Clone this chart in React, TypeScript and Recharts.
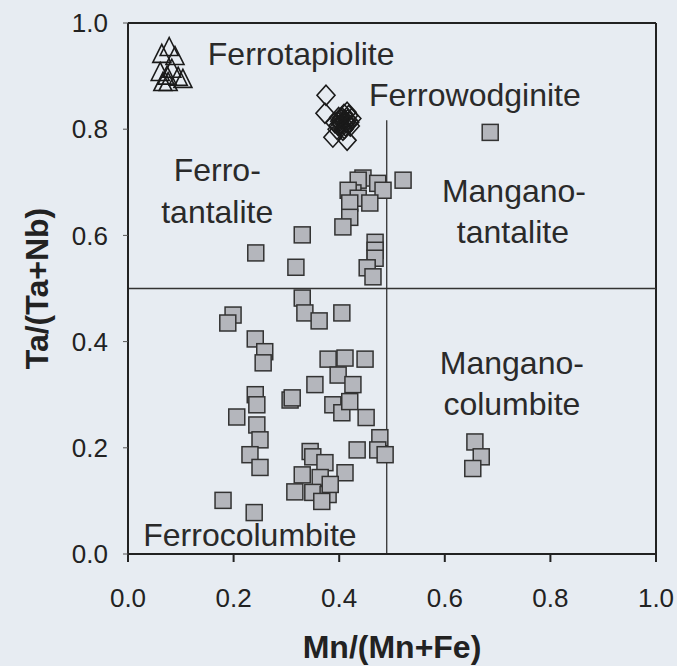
import { ScatterChart, Scatter, XAxis, YAxis, ReferenceLine, ReferenceDot } from 'recharts';

const xTicks = [0, 0.2, 0.4, 0.6, 0.8, 1.0];
const yTicks = [0, 0.2, 0.4, 0.6, 0.8, 1.0];

// Ferrotapiolite (open triangles)
const tapiolite: [number, number][] = [
  [0.078, 0.952], [0.064, 0.939], [0.089, 0.935], [0.083, 0.911], [0.061, 0.905],
  [0.074, 0.898], [0.095, 0.896], [0.104, 0.892], [0.076, 0.886], [0.066, 0.886],
];

// Ferrowodginite (open diamonds, dense cluster near 0.41/0.81)
const wodginite: [number, number][] = [
  [0.375, 0.864], [0.373, 0.83], [0.405, 0.822], [0.415, 0.832], [0.42, 0.813],
  [0.398, 0.807], [0.407, 0.798], [0.411, 0.817], [0.424, 0.82], [0.401, 0.815],
  [0.412, 0.806], [0.418, 0.826], [0.392, 0.812], [0.388, 0.785], [0.415, 0.779],
  [0.409, 0.828], [0.403, 0.81], [0.416, 0.818], [0.421, 0.806], [0.396, 0.8],
  [0.41, 0.801], [0.404, 0.819], [0.413, 0.812], [0.399, 0.822],
];

// Columbite-tantalite (grey squares)
const columbite: [number, number][] = [
  [0.445, 0.708], [0.436, 0.704], [0.473, 0.698], [0.483, 0.685], [0.426, 0.68],
  [0.417, 0.685], [0.436, 0.67], [0.458, 0.661], [0.42, 0.661], [0.42, 0.634],
  [0.407, 0.616], [0.468, 0.587], [0.468, 0.572], [0.468, 0.557], [0.453, 0.539],
  [0.464, 0.522], [0.521, 0.704], [0.686, 0.794], [0.33, 0.601], [0.242, 0.567],
  [0.318, 0.54],
  [0.33, 0.482], [0.335, 0.454], [0.362, 0.439], [0.405, 0.454], [0.199, 0.45],
  [0.189, 0.435], [0.241, 0.405], [0.259, 0.381], [0.256, 0.36], [0.379, 0.367],
  [0.411, 0.369], [0.449, 0.367], [0.398, 0.337], [0.426, 0.319], [0.354, 0.319],
  [0.307, 0.29], [0.311, 0.294], [0.388, 0.281], [0.405, 0.266], [0.42, 0.287],
  [0.451, 0.257], [0.477, 0.219], [0.473, 0.196], [0.487, 0.187], [0.434, 0.196],
  [0.345, 0.193], [0.35, 0.183], [0.373, 0.172], [0.411, 0.153], [0.33, 0.149],
  [0.364, 0.144], [0.316, 0.117], [0.35, 0.116], [0.379, 0.112], [0.367, 0.099],
  [0.383, 0.131], [0.241, 0.3], [0.244, 0.281], [0.206, 0.258], [0.244, 0.243],
  [0.25, 0.215], [0.231, 0.187], [0.25, 0.163], [0.18, 0.101], [0.239, 0.078],
  [0.657, 0.211], [0.669, 0.183], [0.653, 0.161],
];

const regionLabels = [
  { text: 'Ferrotapiolite', x: 0.328, y: 0.9415 },
  { text: 'Ferrowodginite', x: 0.657, y: 0.866 },
  { text: 'Ferro-', x: 0.169, y: 0.724 },
  { text: 'tantalite', x: 0.169, y: 0.644 },
  { text: 'Mangano-', x: 0.731, y: 0.684 },
  { text: 'tantalite', x: 0.729, y: 0.607 },
  { text: 'Mangano-', x: 0.727, y: 0.36 },
  { text: 'columbite', x: 0.727, y: 0.284 },
  { text: 'Ferrocolumbite', x: 0.231, y: 0.036 },
];

const toPoints = (rows: [number, number][]) => rows.map(([x, y]) => ({ x, y }));

const SquareMark = (props: any) => {
  const { cx, cy } = props;
  return <rect x={cx - 8} y={cy - 8} width={16} height={16} fill="#b4b6bc" stroke="#333" strokeWidth={1.5} />;
};

const TriangleMark = (props: any) => {
  const { cx, cy } = props;
  return (
    <polygon
      points={`${cx},${cy - 11} ${cx + 9},${cy + 7} ${cx - 9},${cy + 7}`}
      fill="none"
      stroke="#1a1a1a"
      strokeWidth={1.6}
    />
  );
};

const DiamondMark = (props: any) => {
  const { cx, cy } = props;
  return (
    <polygon
      points={`${cx},${cy - 10} ${cx + 9},${cy} ${cx},${cy + 10} ${cx - 9},${cy}`}
      fill="none"
      stroke="#1a1a1a"
      strokeWidth={1.6}
    />
  );
};

export default function App() {
  return (
    <div
      style={{
        position: 'absolute',
        left: 0,
        top: 0,
        width: 677,
        height: 666,
        background: '#e7ecf2',
        fontFamily: '"Liberation Sans", Arial, sans-serif',
      }}
    >
      <ScatterChart width={677} height={666} margin={{ top: 23, right: 21, bottom: 0, left: 0 }}>
        <XAxis
          type="number"
          dataKey="x"
          domain={[0, 1]}
          ticks={xTicks}
          tickFormatter={(v: number) => v.toFixed(1)}
          height={112}
          tick={{ fill: '#222', fontSize: 26 }}
          tickSize={8}
          tickMargin={27}
          axisLine={{ stroke: '#222', strokeWidth: 2 }}
          tickLine={{ stroke: '#222', strokeWidth: 2 }}
          label={{ value: 'Mn/(Mn+Fe)', position: 'insideBottom', offset: 8, fontSize: 32, fontWeight: 'bold', fill: '#222' }}
        />
        <YAxis
          type="number"
          dataKey="y"
          domain={[0, 1]}
          ticks={yTicks}
          tickFormatter={(v: number) => v.toFixed(1)}
          width={128}
          tick={{ fill: '#222', fontSize: 26 }}
          tickSize={5}
          tickMargin={15}
          axisLine={{ stroke: '#222', strokeWidth: 2 }}
          tickLine={{ stroke: '#555', strokeWidth: 1 }}
          label={{
            value: 'Ta/(Ta+Nb)',
            angle: -90,
            position: 'insideLeft',
            offset: 37,
            fontSize: 32,
            fontWeight: 'bold',
            fill: '#222',
            style: { textAnchor: 'middle' },
          }}
        />
        <ReferenceLine y={1} stroke="#222" strokeWidth={2} />
        <ReferenceLine x={1} stroke="#222" strokeWidth={2} />
        <ReferenceLine y={0.5} stroke="#333" strokeWidth={1.3} />
        <ReferenceLine segment={[{ x: 0.49, y: 0 }, { x: 0.49, y: 0.817 }]} stroke="#333" strokeWidth={1.3} />
        {regionLabels.map((l, i) => (
          <ReferenceDot
            key={i}
            x={l.x}
            y={l.y}
            r={0}
            fill="none"
            stroke="none"
            label={{ value: l.text, position: 'center', fontSize: 32, fill: '#2a2a2a' }}
          />
        ))}
        <Scatter data={toPoints(columbite)} shape={SquareMark} isAnimationActive={false} />
        <Scatter data={toPoints(wodginite)} shape={DiamondMark} isAnimationActive={false} />
        <Scatter data={toPoints(tapiolite)} shape={TriangleMark} isAnimationActive={false} />
      </ScatterChart>
    </div>
  );
}
